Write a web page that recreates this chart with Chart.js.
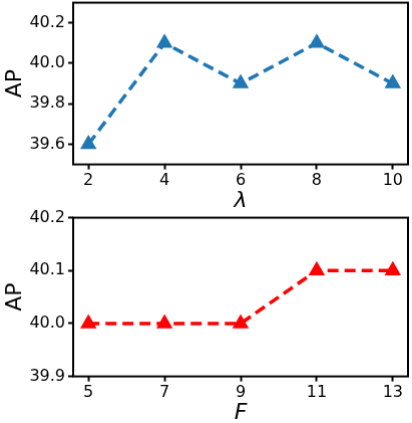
<!DOCTYPE html>
<html>
<head>
<meta charset="UTF-8">
<script src="https://cdn.jsdelivr.net/npm/chart.js"></script>
<style>
  body { margin: 0; background: #fff; width: 412px; height: 423px; overflow: hidden; position: relative; }
  .box { position: absolute; }
</style>
</head>
<body>
<div class="box" id="b1" style="left:0;top:0;width:416px;height:211px"><canvas id="c1"></canvas></div>
<div class="box" id="b2" style="left:0;top:211px;width:416px;height:212px"><canvas id="c2"></canvas></div>
<script>
  const lambdaVals = [2, 4, 6, 8, 10];
  const apLambda = [39.6, 40.1, 39.9, 40.1, 39.9];
  const fVals = [5, 7, 9, 11, 13];
  const apF = [40.0, 40.0, 40.0, 40.1, 40.1];
  const yTicksTop = [39.6, 39.8, 40.0, 40.2];
  const yTicksBottom = [39.9, 40.0, 40.1, 40.2];

  // full black box round the plot area, like matplotlib spines
  const frame = {
    id: 'frame',
    afterDatasetsDraw(chart) {
      const a = chart.chartArea, c = chart.ctx;
      c.save();
      c.strokeStyle = '#000';
      c.lineWidth = 2;
      c.strokeRect(a.left, a.top, a.right - a.left, a.bottom - a.top);
      c.restore();
    }
  };

  function makeChart(id, xs, ys, color, xTicks, yTicks, xRange, yRange, xLabel) {
    return new Chart(document.getElementById(id), {
      type: 'line',
      data: {
        datasets: [{
          data: xs.map((x, i) => ({ x: x, y: ys[i] })),
          borderColor: color,
          backgroundColor: color,
          borderWidth: 3.5,
          borderDash: [11, 6],
          pointStyle: 'triangle',
          pointRadius: 9.5,
          pointBorderWidth: 0,
          tension: 0
        }]
      },
      options: {
        responsive: true,
        maintainAspectRatio: false,
        animation: false,
        layout: { padding: 0 },
        plugins: { legend: { display: false }, tooltip: { enabled: false } },
        scales: {
          x: {
            type: 'linear',
            min: xRange[0], max: xRange[1],
            afterBuildTicks: s => { s.ticks = xTicks.map(v => ({ value: v })); },
            afterFit: s => { s.height = 47; },
            grid: { drawOnChartArea: false, tickLength: 5, tickWidth: 2, tickColor: '#000' },
            border: { display: false },
            ticks: { font: { family: 'DejaVu Sans', size: 16 }, color: '#000', padding: 2,
                     maxRotation: 0, callback: v => String(v) },
            title: { display: true, text: xLabel, color: '#000', padding: 0,
                     font: { family: 'DejaVu Sans', size: 22, style: 'italic', lineHeight: 0.9 } }
          },
          y: {
            min: yRange[0], max: yRange[1],
            afterBuildTicks: s => { s.ticks = yTicks.map(v => ({ value: v })); },
            afterFit: s => { s.width = 73; },
            grid: { drawOnChartArea: false, tickLength: 5, tickWidth: 2, tickColor: '#000' },
            border: { display: false },
            ticks: { font: { family: 'DejaVu Sans', size: 16 }, color: '#000',
                     padding: 3, callback: v => v.toFixed(1) },
            title: { display: true, text: 'AP', color: '#000', padding: { top: 2, bottom: 0 },
                     font: { family: 'DejaVu Sans', size: 22 } }
          }
        }
      },
      plugins: [frame]
    });
  }

  // move/resize the canvas box until the plot area sits where the reference has it
  function place(chart, box, L, T, R, B) {
    for (let i = 0; i < 4; i++) {
      const a = chart.chartArea;
      const l = parseFloat(box.style.left), t = parseFloat(box.style.top);
      const w = parseFloat(box.style.width), h = parseFloat(box.style.height);
      const nl = l + (L - (l + a.left)), nt = t + (T - (t + a.top));
      box.style.left = nl + 'px';
      box.style.top = nt + 'px';
      box.style.width = (R - nl + (w - a.right)) + 'px';
      box.style.height = (B - nt + (h - a.bottom)) + 'px';
      chart.resize();
    }
  }

  const chartLambda = makeChart('c1', lambdaVals, apLambda, '#1f77b4', lambdaVals, yTicksTop,
                                [1.6, 10.4], [39.5, 40.3], 'λ');
  const chartF = makeChart('c2', fVals, apF, '#ff0000', fVals, yTicksBottom,
                           [4.6, 13.4], [39.9, 40.2], 'F');
  place(chartLambda, document.getElementById('b1'), 73, 3, 407, 164);
  place(chartF, document.getElementById('b2'), 73, 218, 407, 376);
</script>
</body>
</html>
